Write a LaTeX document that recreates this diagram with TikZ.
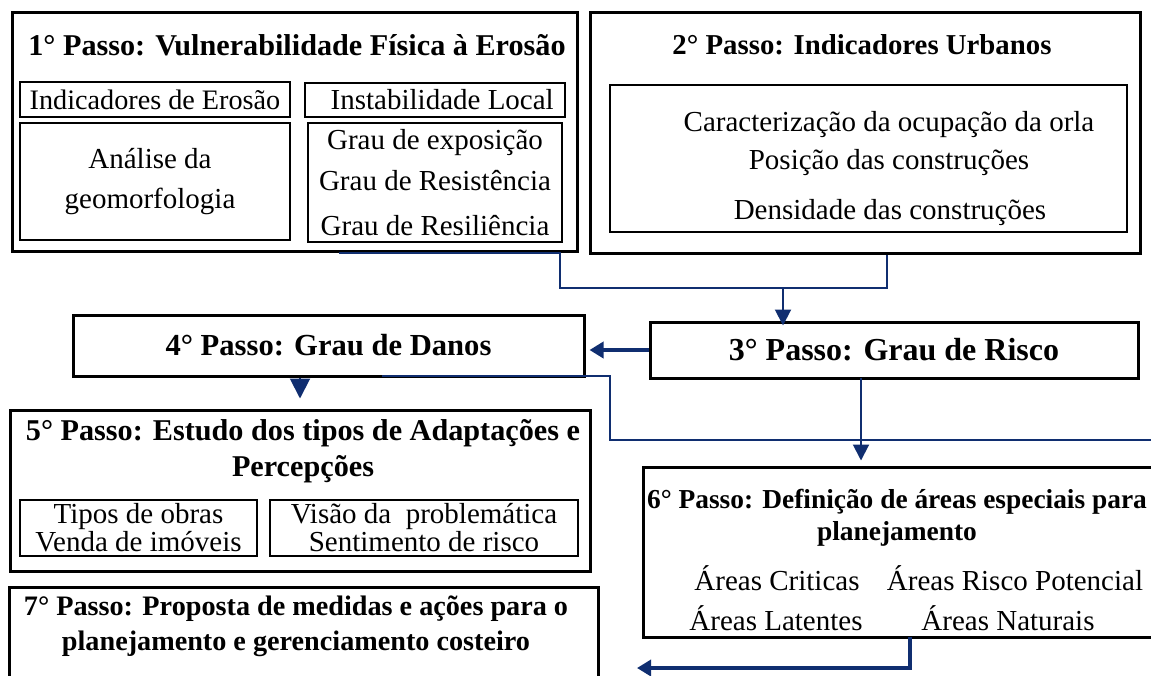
\documentclass[tikz,border=0pt]{standalone}
\usepackage{fontspec}
\setmainfont{Liberation Serif}
\usetikzlibrary{arrows.meta}
\definecolor{azul}{RGB}{16,46,112}
\begin{document}
\begin{tikzpicture}[x=0.5pt, y=-0.5pt,
	caixa/.style={draw, line width=1.5pt, inner sep=0pt},
	sub/.style={draw, line width=1pt, inner sep=0pt},
	titulo/.style={font=\bfseries\fontsize{15.1}{18}\selectfont, align=center},
	texto/.style={font=\fontsize{14.5}{17}\selectfont, align=center},
	liga/.style={azul, line width=1pt},
	seta/.style={azul, line width=1pt, -{Triangle[length=8pt, width=8pt]}},
	setagrossa/.style={azul, line width=2pt, -{Triangle[length=7pt, width=8pt]}}]
		\useasboundingbox(0, 0) rectangle (1151, 675);
		\clip(0, 0) rectangle (1151, 675);

		\node[caixa, minimum width=282.5pt, minimum height=119.5pt](passo1) at(294.5, 131.5){};
			\node[titulo](tit1) at(297, 45){1° Passo: Vulnerabilidade Física à Erosão};
			\node[sub, texto, font=\fontsize{14.1}{17}\selectfont, minimum width=135pt, minimum height=17.5pt](erosao) at(155, 99.5){Indicadores de Erosão};
			\node[sub, texto, minimum width=130pt, minimum height=17pt](instab) at(435, 100){\ \ Instabilidade Local};
			\node[sub, texto, minimum width=135pt, minimum height=58.5pt](geomorf) at(155, 181.5){};
			\node[texto, font=\fontsize{14.5}{20}\selectfont](analise) at(150, 182){Análise da\\geomorfologia};
			\node[sub, minimum width=127pt, minimum height=59.5pt](graus) at(435, 182.5){};
			\node[texto](grau1) at(435, 143){Grau de exposição};
			\node[texto](grau2) at(435, 181){Grau de Resistência};
			\node[texto](grau3) at(435, 226){Grau de Resiliência};

		\node[caixa, minimum width=275pt, minimum height=120.5pt](passo2) at(865, 132.5){};
			\node[titulo, font=\bfseries\fontsize{14.4}{18}\selectfont](tit2) at(862, 45){2° Passo: Indicadores Urbanos};
			\node[sub, minimum width=258.5pt, minimum height=73.5pt](urbanos) at(868.5, 158.5){};
			\node[texto](orla) at(889, 125){Caracterização da ocupação da orla};
			\node[texto](posicao) at(889, 163){Posição das construções};
			\node[texto](densid) at(890, 213){Densidade das construções};

		\node[caixa, titulo, font=\bfseries\fontsize{16}{18}\selectfont, minimum width=244pt, minimum height=28pt](passo3) at(894, 350){3° Passo: Grau de Risco};
		\node[caixa, titulo, font=\bfseries\fontsize{15.3}{18}\selectfont, minimum width=255.5pt, minimum height=30.5pt](passo4) at(328.5, 345.5){4° Passo: Grau de Danos};

		\node[caixa, minimum width=290pt, minimum height=80.5pt](passo5) at(300, 490.5){};
			\node[titulo](tit5) at(303, 451){5° Passo: Estudo dos tipos de Adaptações e\\Percepções};
			\node[sub, texto, font=\fontsize{14.5}{14}\selectfont, minimum width=118.5pt, minimum height=28pt](obras) at(138.5, 528){Tipos de obras\\Venda de imóveis};
			\node[sub, texto, font=\fontsize{14.5}{14}\selectfont, minimum width=154pt, minimum height=28pt](visao) at(424, 528){Visão da\ \ problemática\\Sentimento de risco};

		\node[caixa, minimum width=257pt, minimum height=85pt](passo6) at(900, 552){};
			\node[titulo, font=\bfseries\fontsize{13.7}{16}\selectfont](tit6) at(897, 518){6° Passo: Definição de áreas especiais para\\planejamento};
			\node[texto](criticas) at(777, 578){Áreas Criticas};
			\node[texto](potencial) at(1015, 578){Áreas Risco Potencial};
			\node[texto](latentes) at(776, 618){Áreas Latentes};
			\node[texto](naturais) at(1008, 618){Áreas Naturais};

		\node[caixa, minimum width=294.5pt, minimum height=56.5pt](passo7) at(303.5, 643.5){};
			\node[titulo, font=\bfseries\fontsize{14.1}{17.5}\selectfont](tit7) at(296, 626){7° Passo: Proposta de medidas e ações para o\\planejamento e gerenciamento costeiro};

		\coordinate(k1) at(339, 253);
		\coordinate(b1) at(560, 288);
		\coordinate(b2) at(887, 288);
		\coordinate(j1) at(783, 288);
		\draw[liga](k1) -| (b1) -- (b2) -- (b2 |- passo2.south);
		\draw[seta](j1) -- ([yshift=-2.5pt]j1 |- passo3.north);

		\draw[setagrossa](passo3.west) -- ([xshift=2pt]passo3.west -| passo4.east);
		\draw[azul, line width=1pt, -{Triangle[length=10pt, width=10pt]}](passo4.south -| passo5.north) -- ([yshift=5pt]passo5.north);

		\coordinate(k2) at(382, 376);
		\coordinate(b3) at(610, 440);
		\coordinate(k3) at(1160, 440);
		\coordinate(j2) at(861, 378);
		\draw[liga](k2) -| (b3) -- (k3);
		\draw[seta](j2) -- ([yshift=2.5pt]j2 |- passo6.north);

		\coordinate(j3) at(910, 637);
		\coordinate(b4) at(910, 668);
		\coordinate(k4) at(637, 668);
		\draw[setagrossa](j3) -- (b4) -- (k4);
	\end{tikzpicture}
\end{document}
